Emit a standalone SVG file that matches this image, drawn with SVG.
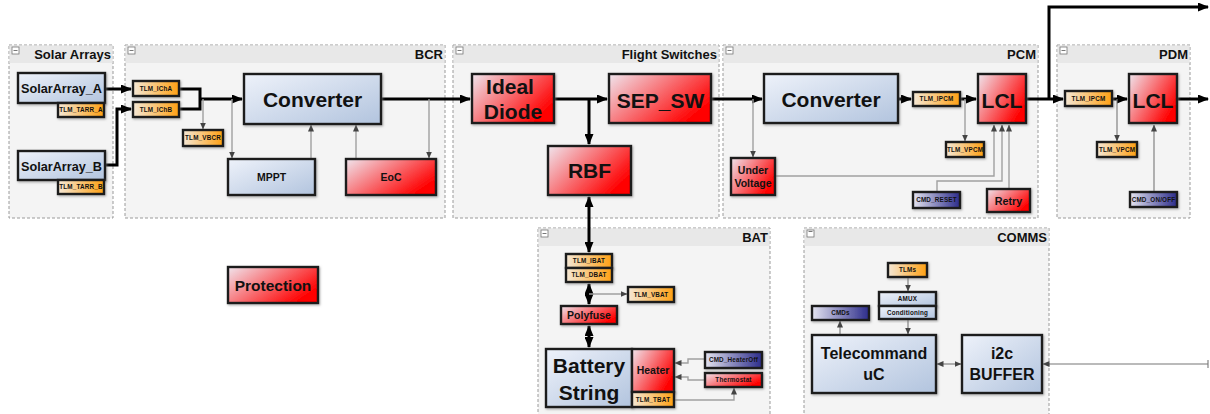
<svg xmlns="http://www.w3.org/2000/svg" width="1210" height="414" viewBox="0 0 1210 414">
<style>
.cont{fill:#f4f4f4;stroke:#9a9a9a;stroke-width:1;stroke-dasharray:3,2}
.hdr{fill:#e8e8e8}
.ttl{font-family:"Liberation Sans",Arial,sans-serif;font-weight:bold;font-size:13px;fill:#111;text-anchor:end}
.ico{fill:#fff;stroke:#777;stroke-width:0.8}
.n{stroke:#1a1a1a;stroke-width:2.4;filter:url(#sh)}
.blue{fill:url(#gB)}
.red{fill:url(#gR)}
.org{fill:url(#gO)}
.nav{fill:url(#gN)}
.t{font-family:"Liberation Sans",Arial,sans-serif;font-weight:bold;fill:#111;text-anchor:middle}
.big{font-size:21px}
.mid{font-size:16px}
.sm{font-size:10.5px}
.xs{font-size:6.3px;letter-spacing:0.2px}
.sa{font-family:"Liberation Sans",Arial,sans-serif;font-weight:bold;font-size:12.7px;fill:#111;text-anchor:middle}
.pw{fill:none;stroke:#000;stroke-width:3}
.th{fill:none;stroke:#a0a0a0;stroke-width:1.4}
.td{fill:none;stroke:#777;stroke-width:1.1}
</style>
<defs>
<linearGradient id="gB" x1="0" y1="0" x2="1" y2="1"><stop offset="0" stop-color="#eef2fa"/><stop offset="1" stop-color="#b2c4de"/></linearGradient>
<linearGradient id="gR" x1="0" y1="0" x2="1" y2="0.6"><stop offset="0" stop-color="#f0e6ee"/><stop offset="1" stop-color="#ff0000"/></linearGradient>
<linearGradient id="gO" x1="0" y1="0" x2="1" y2="0"><stop offset="0" stop-color="#f5e8d6"/><stop offset="1" stop-color="#ffa012"/></linearGradient>
<linearGradient id="gN" x1="0" y1="0" x2="1" y2="0"><stop offset="0" stop-color="#e4e4f0"/><stop offset="1" stop-color="#2c2c8a"/></linearGradient>
<filter id="sh" x="-10%" y="-10%" width="130%" height="140%"><feDropShadow dx="1" dy="1.2" stdDeviation="0.8" flood-color="#777" flood-opacity="0.6"/></filter>
<marker id="ab" markerUnits="userSpaceOnUse" markerWidth="11" markerHeight="9" refX="10" refY="4.5" orient="auto-start-reverse"><path d="M0,0 L11,4.5 L0,9 z" fill="#000"/></marker>
<marker id="as" markerUnits="userSpaceOnUse" markerWidth="7" markerHeight="6" refX="6.5" refY="3" orient="auto-start-reverse"><path d="M0,0 L7,3 L0,6 z" fill="#444"/></marker>
</defs>
<rect width="1210" height="414" fill="#fff"/>

<!-- containers -->
<g id="c-solar"><rect class="cont" x="9" y="45" width="104" height="173"/><rect class="hdr" x="9.5" y="45.5" width="103" height="17.5"/><rect class="ico" x="12" y="47" width="7" height="7"/><line x1="13.5" y1="50.5" x2="17.5" y2="50.5" stroke="#555" stroke-width="0.8"/><text class="ttl" x="111" y="59">Solar Arrays</text></g>
<g id="c-bcr"><rect class="cont" x="125" y="45" width="320" height="173"/><rect class="hdr" x="125.5" y="45.5" width="319" height="17.5"/><rect class="ico" x="128" y="47" width="7" height="7"/><line x1="129.5" y1="50.5" x2="133.5" y2="50.5" stroke="#555" stroke-width="0.8"/><text class="ttl" x="443" y="59">BCR</text></g>
<g id="c-fs"><rect class="cont" x="453" y="45" width="266" height="173"/><rect class="hdr" x="453.5" y="45.5" width="265" height="17.5"/><rect class="ico" x="456" y="47" width="7" height="7"/><line x1="457.5" y1="50.5" x2="461.5" y2="50.5" stroke="#555" stroke-width="0.8"/><text class="ttl" x="717" y="59">Flight Switches</text></g>
<g id="c-pcm"><rect class="cont" x="723" y="45" width="315" height="173"/><rect class="hdr" x="723.5" y="45.5" width="314" height="17.5"/><rect class="ico" x="726" y="47" width="7" height="7"/><line x1="727.5" y1="50.5" x2="731.5" y2="50.5" stroke="#555" stroke-width="0.8"/><text class="ttl" x="1036" y="59">PCM</text></g>
<g id="c-pdm"><rect class="cont" x="1057" y="45" width="133" height="173"/><rect class="hdr" x="1057.5" y="45.5" width="132" height="17.5"/><rect class="ico" x="1060" y="47" width="7" height="7"/><line x1="1061.5" y1="50.5" x2="1065.5" y2="50.5" stroke="#555" stroke-width="0.8"/><text class="ttl" x="1188" y="59">PDM</text></g>
<g id="c-bat"><rect class="cont" x="538" y="228" width="232" height="200"/><rect class="hdr" x="538.5" y="228.5" width="231" height="17.5"/><rect class="ico" x="541" y="230" width="7" height="7"/><line x1="542.5" y1="233.5" x2="546.5" y2="233.5" stroke="#555" stroke-width="0.8"/><text class="ttl" x="768" y="242">BAT</text></g>
<g id="c-comms"><rect class="cont" x="804" y="228" width="245" height="200"/><rect class="hdr" x="804.5" y="228.5" width="244" height="17.5"/><rect class="ico" x="807" y="230" width="7" height="7"/><line x1="808.5" y1="231.5" x2="812.5" y2="231.5" stroke="#555" stroke-width="0.8"/><text class="ttl" x="1047" y="242">COMMS</text></g>

<!-- connectors -->
<g id="connectors">
<path class="pw" d="M105,89 H131" marker-end="url(#ab)"/>
<path class="pw" d="M105,165 H117 V109 H131" marker-end="url(#ab)"/>
<path class="pw" d="M179,89 H200 V109 H179"/>
<path class="pw" d="M200,99 H242" marker-end="url(#ab)"/>
<path class="th" d="M203,99 V129" marker-end="url(#as)"/>
<path class="th" d="M232,99 V158" marker-end="url(#as)"/>
<path class="th" d="M311,159 V125" marker-end="url(#as)"/>
<path class="th" d="M356,159 V125" marker-end="url(#as)"/>
<path class="pw" d="M381,99 H470" marker-end="url(#ab)"/>
<path class="th" d="M429,99 V158" marker-end="url(#as)"/>
<path class="pw" d="M554,99 H607" marker-end="url(#ab)"/>
<path class="pw" d="M589,99 V144" marker-end="url(#ab)"/>
<path class="pw" d="M589,197 V252" marker-start="url(#ab)" marker-end="url(#ab)"/>
<path class="pw" d="M711,99 H762" marker-end="url(#ab)"/>
<path class="th" d="M753,99 V157" marker-end="url(#as)"/>
<path class="pw" d="M898,99 H911" marker-end="url(#ab)"/>
<path class="pw" d="M960,99 H976" marker-end="url(#ab)"/>
<path class="th" d="M965,99 V141" marker-end="url(#as)"/>
<path class="th" d="M775,176 H994 V125" marker-end="url(#as)"/>
<path class="th" d="M937,192 V181 H1002 V125" marker-end="url(#as)"/>
<path class="th" d="M1009,189 V125" marker-end="url(#as)"/>
<path class="pw" d="M1026,99 H1063" marker-end="url(#ab)"/>
<path class="pw" d="M1049,99 V7 H1208" marker-end="url(#ab)"/>
<path class="pw" d="M1112,99 H1127" marker-end="url(#ab)"/>
<path class="pw" d="M1177,99 H1208" marker-end="url(#ab)"/>
<path class="td" d="M1117,99 V141" marker-end="url(#as)"/>
<path class="td" d="M1154,192 V125" marker-end="url(#as)"/>
<path class="pw" d="M589,284 V304" marker-start="url(#ab)" marker-end="url(#ab)"/>
<path class="pw" d="M589,326 V347" marker-start="url(#ab)" marker-end="url(#ab)"/>
<path class="th" d="M589,294 H627" marker-end="url(#as)"/>
<path class="th" d="M705,359 H688 V363 H675" marker-end="url(#as)"/>
<path class="th" d="M705,380 H688 V377 H675" marker-end="url(#as)"/>
<path class="th" d="M674,400 H734 V388" marker-end="url(#as)"/>
<path class="td" d="M908,277 V291" marker-end="url(#as)"/>
<path class="td" d="M908,319 V334" marker-end="url(#as)"/>
<path class="td" d="M840,335 V321" marker-end="url(#as)"/>
<path class="td" d="M937,364 H961" marker-start="url(#as)" marker-end="url(#as)"/>
<path class="td" d="M1208,364 H1043" marker-end="url(#as)"/>
<path class="td" d="M1208,360 V368"/>
</g>

<!-- Solar Arrays -->
<g id="SolarArray_A"><rect class="n blue" x="18" y="73" width="87" height="30"/><text class="sa" x="61.5" y="93">SolarArray_A</text></g>
<g id="TLM_TARR_A"><rect class="n org" x="58" y="103" width="46" height="14"/><text class="t xs" x="81" y="112.3">TLM_TARR_A</text></g>
<g id="SolarArray_B"><rect class="n blue" x="18" y="151" width="87" height="29"/><text class="sa" x="61.5" y="170.5">SolarArray_B</text></g>
<g id="TLM_TARR_B"><rect class="n org" x="58" y="180" width="46" height="14"/><text class="t xs" x="81" y="189.3">TLM_TARR_B</text></g>

<!-- BCR -->
<g id="TLM_IChA"><rect class="n org" x="133" y="81" width="46" height="15"/><text class="t xs" x="156" y="90.8">TLM_IChA</text></g>
<g id="TLM_IChB"><rect class="n org" x="133" y="102" width="46" height="15"/><text class="t xs" x="156" y="111.8">TLM_IChB</text></g>
<g id="TLM_VBCR"><rect class="n org" x="183" y="130" width="40" height="16"/><text class="t xs" x="203" y="140.3">TLM_VBCR</text></g>
<g id="BCR_Converter"><rect class="n blue" x="244" y="74" width="137" height="50"/><text class="t big" x="312.5" y="107">Converter</text></g>
<g id="MPPT"><rect class="n blue" x="228" y="159" width="87" height="36"/><text class="t sm" x="271.5" y="181">MPPT</text></g>
<g id="EoC"><rect class="n red" x="346" y="159" width="90" height="36"/><text class="t sm" x="391" y="181">EoC</text></g>

<!-- Flight Switches -->
<g id="IdealDiode"><rect class="n red" x="472" y="74" width="82" height="49"/><text class="t big" x="510" y="94">Ideal</text><text class="t big" x="513" y="119">Diode</text></g>
<g id="SEP_SW"><rect class="n red" x="609" y="74" width="102" height="49"/><text class="t big" x="660.5" y="108">SEP_SW</text></g>
<g id="RBF"><rect class="n red" x="548" y="146" width="83" height="49"/><text class="t big" x="589.5" y="178">RBF</text></g>

<!-- PCM -->
<g id="PCM_Converter"><rect class="n blue" x="764" y="74" width="134" height="49"/><text class="t big" x="831" y="107">Converter</text></g>
<g id="PCM_TLM_IPCM"><rect class="n org" x="913" y="92" width="47" height="14"/><text class="t xs" x="936.5" y="101.3">TLM_IPCM</text></g>
<g id="PCM_LCL"><rect class="n red" x="978" y="74" width="48" height="49"/><text class="t big" x="1002" y="108">LCL</text></g>
<g id="PCM_TLM_VPCM"><rect class="n org" x="946" y="142" width="38" height="15"/><text class="t xs" x="965" y="151.8">TLM_VPCM</text></g>
<g id="UnderVoltage"><rect class="n red" x="731" y="158" width="44" height="37"/><text class="t" font-size="10.5" x="753" y="174">Under</text><text class="t" font-size="10.5" x="753" y="187">Voltage</text></g>
<g id="CMD_RESET"><rect class="n nav" x="913" y="192" width="47" height="16"/><text class="t xs" x="936.5" y="202.3">CMD_RESET</text></g>
<g id="Retry"><rect class="n red" x="987" y="189" width="43" height="23"/><text class="t" font-size="10.8" x="1008.5" y="204.5">Retry</text></g>

<!-- PDM -->
<g id="PDM_TLM_IPCM"><rect class="n org" x="1065" y="91" width="47" height="15"/><text class="t xs" x="1088.5" y="100.8">TLM_IPCM</text></g>
<g id="PDM_LCL"><rect class="n red" x="1129" y="74" width="48" height="49"/><text class="t big" x="1153" y="108">LCL</text></g>
<g id="PDM_TLM_VPCM"><rect class="n org" x="1097" y="142" width="40" height="15"/><text class="t xs" x="1117" y="151.8">TLM_VPCM</text></g>
<g id="CMD_ONOFF"><rect class="n nav" x="1130" y="192" width="47" height="15"/><text class="t xs" x="1153.5" y="201.8">CMD_ON/OFF</text></g>

<!-- BAT -->
<g id="TLM_IBAT"><rect class="n org" x="566" y="254" width="46" height="14"/><text class="t xs" x="589" y="263.3">TLM_IBAT</text></g>
<g id="TLM_DBAT"><rect class="n org" x="566" y="268" width="46" height="14"/><text class="t xs" x="589" y="277.3">TLM_DBAT</text></g>
<g id="TLM_VBAT"><rect class="n org" x="628" y="287" width="46" height="15"/><text class="t xs" x="651" y="296.8">TLM_VBAT</text></g>
<g id="Polyfuse"><rect class="n red" x="561" y="306" width="56" height="18"/><text class="t sm" x="589" y="319">Polyfuse</text></g>
<g id="BatteryString"><rect class="n blue" x="546" y="349" width="86" height="58"/><text class="t big" x="589" y="373">Battery</text><text class="t big" x="589" y="400">String</text></g>
<g id="Heater"><rect class="n red" x="632" y="349" width="42" height="43"/><text class="t sm" x="653" y="374">Heater</text></g>
<g id="TLM_TBAT"><rect class="n org" x="632" y="392" width="42" height="15"/><text class="t xs" x="653" y="401.8">TLM_TBAT</text></g>
<g id="CMD_HeaterOff"><rect class="n nav" x="705" y="352" width="57" height="16"/><text class="t xs" x="733.5" y="362.3">CMD_HeaterOff</text></g>
<g id="Thermostat"><rect class="n red" x="705" y="373" width="57" height="14"/><text class="t xs" x="733.5" y="382.3">Thermostat</text></g>

<!-- COMMS -->
<g id="TLMs"><rect class="n org" x="888" y="263" width="39" height="14"/><text class="t xs" x="907.5" y="272.3">TLMs</text></g>
<g id="AMUX"><rect class="n blue" x="879" y="292" width="57" height="14"/><text class="t xs" x="907.5" y="301.3">AMUX</text></g>
<g id="Conditioning"><rect class="n blue" x="879" y="306" width="57" height="13"/><text class="t xs" x="907.5" y="314.8">Conditioning</text></g>
<g id="CMDs"><rect class="n nav" x="812" y="306" width="57" height="14"/><text class="t xs" x="840.5" y="315.3">CMDs</text></g>
<g id="TelecommanduC"><rect class="n blue" x="812" y="335" width="124" height="58"/><text class="t mid" x="874" y="359">Telecommand</text><text class="t mid" x="874" y="380">uC</text></g>
<g id="i2cBUFFER"><rect class="n blue" x="962" y="335" width="80" height="58"/><text class="t mid" x="1002" y="359">i2c</text><text class="t mid" x="1002" y="380">BUFFER</text></g>

<!-- legend -->
<g id="Protection"><rect class="n red" x="228" y="267" width="90" height="36"/><text class="t" font-size="15.5" x="273" y="291">Protection</text></g>
</svg>
